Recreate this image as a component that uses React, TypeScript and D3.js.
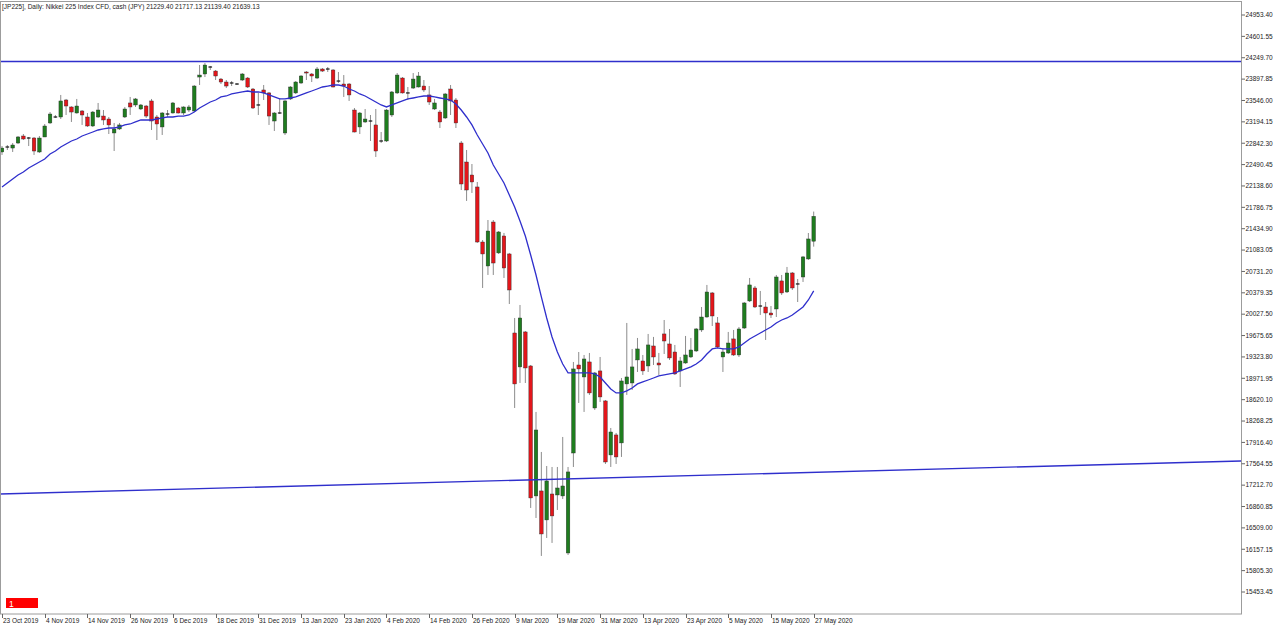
import React from "react";
import * as d3 from "d3";

const title = "[JP225], Daily: Nikkei 225 Index CFD, cash (JPY)  21229.40 21717.13 21139.40 21639.13";

// date labels, one every 8 trading days
const dateLabels = [
  "23 Oct 2019", "4 Nov 2019", "14 Nov 2019", "26 Nov 2019", "6 Dec 2019",
  "18 Dec 2019", "31 Dec 2019", "13 Jan 2020", "23 Jan 2020", "4 Feb 2020",
  "14 Feb 2020", "26 Feb 2020", "9 Mar 2020", "19 Mar 2020", "31 Mar 2020",
  "13 Apr 2020", "23 Apr 2020", "5 May 2020", "15 May 2020", "27 May 2020",
];
const labelStep = 8;

const priceTicks = [
  24953.4, 24601.55, 24249.7, 23897.85, 23546.0, 23194.15, 22842.3, 22490.45,
  22138.6, 21786.75, 21434.9, 21083.05, 20731.2, 20379.35, 20027.5, 19675.65,
  19323.8, 18971.95, 18620.1, 18268.25, 17916.4, 17564.55, 17212.7, 16860.85,
  16509.0, 16157.15, 15805.3, 15453.45,
];

const open = [
  22698, 22780, 22763, 22846, 22961, 22928, 22928, 22698, 22945, 23176,
  23274, 23274, 23554, 23439, 23340, 23373, 23274, 23126, 23274, 23290,
  23241, 23011, 23077, 23274, 23505, 23472, 23406, 23455, 23538, 23274,
  23110, 23323, 23340, 23422, 23340, 23389, 23373, 23932, 23982, 24097,
  24031, 23899, 23850, 23834, 23817, 23883, 23916, 23735, 23472, 23719,
  23670, 23208, 23340, 23011, 23571, 23670, 23834, 24015, 23982, 23916,
  24064, 24064, 24048, 23866, 23817, 23817, 23389, 23110, 23192, 23208,
  23143, 22879, 22879, 23307, 23670, 23916, 23670, 23751, 23768, 23784,
  23637, 23406, 23356, 23258, 23735, 23554, 22846, 22533, 22319, 22122,
  21216, 20821, 21545, 21036, 21315, 21019, 19718, 19159, 19735, 19175,
  17035, 17117, 16640, 17067, 17051, 17035, 16096, 17742, 19191, 18994,
  19241, 18483, 19093, 18599, 17710, 18039, 17908, 18879, 18895, 19274,
  19257, 19175, 19504, 19224, 19702, 19537, 19405, 19093, 19224, 19323,
  19422, 19768, 19981, 20377, 19883, 19323, 19389, 19620, 19356, 19800,
  20245, 20459, 20162, 20146, 20047, 20113, 20575, 20393, 20706, 20525,
  20640, 20937, 21229.4,
];

const high = [
  22796, 22813, 22846, 22961, 22994, 22945, 22945, 22961, 23159, 23356,
  23307, 23637, 23571, 23450, 23571, 23389, 23340, 23373, 23505, 23389,
  23274, 23176, 23176, 23439, 23604, 23587, 23488, 23472, 23571, 23307,
  23356, 23389, 23521, 23439, 23450, 23472, 23801, 24130, 24163, 24114,
  24048, 23916, 23883, 23866, 23834, 23998, 23932, 23751, 23670, 23801,
  23686, 23356, 23587, 23554, 23784, 23866, 23965, 24031, 23998, 24097,
  24081, 24097, 24064, 24015, 23965, 23834, 23422, 23356, 23406, 23307,
  23406, 23027, 23406, 23702, 23998, 23932, 23768, 23998, 24015, 23883,
  23784, 23571, 23389, 23670, 23801, 23587, 22879, 22731, 22500, 22204,
  21249, 21578, 21578, 21397, 21365, 21036, 19965, 20179, 19751, 19191,
  18418, 17759, 17528, 17512, 17512, 18006, 17512, 19241, 19405, 19356,
  19389, 19076, 19323, 18615, 18154, 18072, 18977, 19883, 19455, 19636,
  19356, 19702, 19653, 19389, 19932, 19784, 19521, 19323, 19669, 19636,
  19800, 20146, 20509, 20393, 19981, 19471, 19735, 19768, 19817, 20228,
  20624, 20492, 20410, 20228, 20162, 20673, 20673, 20805, 20722, 20607,
  20986, 21364, 21717.13,
];

const low = [
  22649, 22731, 22698, 22829, 22895, 22796, 22649, 22682, 22945, 23159,
  23258, 23241, 23307, 23192, 23330, 23143, 23110, 23110, 23258, 23143,
  22994, 22714, 23060, 23258, 23307, 23439, 23389, 23258, 23060, 22895,
  22978, 23274, 23330, 23330, 23307, 23356, 23356, 23801, 23932, 24048,
  23883, 23817, 23751, 23784, 23801, 23866, 23751, 23406, 23307, 23554,
  23143, 23044, 23325, 22978, 23554, 23653, 23817, 23883, 23850, 23899,
  24015, 24015, 23760, 23834, 23604, 23538, 23020, 22994, 23176, 22879,
  22616, 22846, 22862, 23274, 23653, 23660, 23554, 23735, 23760, 23686,
  23472, 23389, 23093, 23241, 23307, 23093, 22072, 21892, 22023, 21200,
  20459, 20673, 20673, 21019, 20624, 20195, 18483, 18895, 18895, 16837,
  16672, 16047, 16343, 16261, 16804, 16985, 16063, 17512, 18566, 18418,
  18698, 18451, 18582, 17561, 17512, 17561, 17677, 18698, 18780, 19076,
  19027, 19076, 19191, 19027, 19372, 19274, 19027, 18829, 19210, 19307,
  19405, 19735, 19970, 19833, 19471, 19076, 19372, 19339, 19323, 19784,
  20228, 20130, 20015, 19603, 19965, 19981, 20344, 20377, 20426, 20228,
  20558, 20920, 21139.4,
];

const close = [
  22763, 22780, 22813, 22945, 22912, 22928, 22714, 22928, 23126, 23323,
  23274, 23538, 23455, 23356, 23455, 23307, 23126, 23356, 23389, 23225,
  23143, 23077, 23143, 23406, 23439, 23571, 23472, 23290, 23208, 23159,
  23340, 23323, 23505, 23340, 23439, 23439, 23784, 23965, 24130, 24097,
  23949, 23850, 23784, 23834, 23817, 23982, 23768, 23422, 23472, 23670,
  23290, 23340, 23340, 23538, 23768, 23850, 23949, 23998, 23949, 24064,
  24031, 24064, 23768, 23866, 23784, 23637, 23027, 23340, 23241, 23208,
  22714, 22879, 23389, 23686, 23965, 23670, 23670, 23899, 23949, 23719,
  23521, 23505, 23192, 23653, 23538, 23176, 22171, 22072, 22204, 21216,
  21019, 21397, 20870, 21381, 20788, 20426, 18879, 19965, 19142, 17002,
  18121, 16409, 17282, 16706, 17166, 17199, 17430, 19126, 19126, 19290,
  18731, 19060, 18665, 17594, 18088, 17677, 18928, 18994, 19159, 19455,
  19093, 19521, 19323, 19191, 19586, 19307, 19043, 19257, 19356, 19438,
  19784, 19981, 20393, 19998, 19488, 19405, 19553, 19356, 19784, 20212,
  20509, 20146, 20162, 20047, 20015, 20640, 20377, 20706, 20459, 20525,
  20970, 21266, 21639.13,
];

// moving average as drawn on the chart
const movingAverage = [
  22122, 22188, 22254, 22319, 22369, 22435, 22484, 22533, 22583, 22665,
  22714, 22780, 22829, 22879, 22912, 22961, 22994, 23027, 23060, 23077,
  23093, 23093, 23110, 23143, 23159, 23192, 23225, 23225, 23225, 23241,
  23258, 23274, 23274, 23290, 23290, 23307, 23356, 23422, 23472, 23521,
  23554, 23604, 23620, 23653, 23670, 23686, 23702, 23686, 23686, 23670,
  23637, 23604, 23571, 23571, 23587, 23604, 23637, 23670, 23702, 23735,
  23768, 23784, 23801, 23801, 23784, 23735, 23702, 23653, 23620, 23571,
  23521, 23472, 23439, 23472, 23505, 23538, 23571, 23587, 23604, 23620,
  23620, 23604, 23587, 23571, 23554, 23488, 23389, 23274, 23143, 22978,
  22829, 22682, 22484, 22336, 22188, 21990, 21793, 21561, 21315, 21002,
  20673, 20311, 19965, 19653, 19405, 19208, 19060, 19060, 19060, 19060,
  19060, 19043, 18994, 18895, 18796, 18731, 18731, 18764, 18813, 18879,
  18912, 18944, 18977, 19010, 19027, 19043, 19060, 19093, 19126, 19159,
  19208, 19274, 19372, 19455, 19471, 19455, 19455, 19455, 19488, 19553,
  19620, 19669, 19718, 19768, 19817, 19883, 19932, 19965, 20015, 20080,
  20146, 20261, 20410,
];

// drawn levels
const resistanceLevel = 24188;
const supportLine = [
  { bar: 0, price: 17068 },
  { bar: 152, price: 17423 },
];

const W = 1280;
const H = 628;
const plotRight = 1241;
const plotTop = 2;
const plotBottom = 614;

const FONT = "'Liberation Sans', Arial, sans-serif";
const UP = "#1f7d1f";
const DOWN = "#e3161b";
const LINE = "#2f2fcc";

export default function App() {
  const n = open.length;
  const x = d3.scaleLinear().domain([0, n - 1]).range([2, 813.7]);
  const y = d3
    .scaleLinear()
    .domain([priceTicks[priceTicks.length - 1], priceTicks[0]])
    .range([592, 15]);

  const maLine = d3
    .line<number>()
    .x((_, i) => x(i))
    .y((d) => y(d))(movingAverage);

  const b0 = x.invert(0);
  const b1 = x.invert(plotRight);
  const s0 = supportLine[0];
  const s1 = supportLine[1];
  const supportAt = (b: number) =>
    s0.price + ((s1.price - s0.price) * (b - s0.bar)) / (s1.bar - s0.bar);

  const bodyW = 3.6;

  return (
    <svg
      width={W}
      height={H}
      style={{ position: "absolute", left: 0, top: 0, background: "#fff" }}
      fontFamily={FONT}
    >
      <defs>
        <clipPath id="plot">
          <rect x={0} y={plotTop} width={plotRight} height={plotBottom - plotTop} />
        </clipPath>
      </defs>
      <rect x={0} y={0} width={W} height={H} fill="#fff" />

      <g clipPath="url(#plot)">
        {open.map((o, i) => {
          const c = close[i];
          const cx = x(i);
          const isDoji = o === c;
          const color = isDoji ? "#000" : c > o ? UP : DOWN;
          const top = y(Math.max(o, c));
          const bot = y(Math.min(o, c));
          return (
            <g key={i}>
              <line
                x1={cx}
                x2={cx}
                y1={y(high[i])}
                y2={y(low[i])}
                stroke="#8c8c8c"
                strokeWidth={1}
              />
              {isDoji ? (
                <line
                  x1={cx - bodyW / 2}
                  x2={cx + bodyW / 2}
                  y1={top}
                  y2={top}
                  stroke="#111"
                  strokeWidth={1.2}
                />
              ) : (
                <rect
                  x={cx - bodyW / 2}
                  y={top}
                  width={bodyW}
                  height={Math.max(1, bot - top)}
                  fill={color}
                  stroke="#2a2a2a"
                  strokeWidth={0.4}
                />
              )}
            </g>
          );
        })}

        <path d={maLine ?? ""} fill="none" stroke={LINE} strokeWidth={1.3} />

        <line
          x1={0}
          x2={plotRight}
          y1={y(resistanceLevel)}
          y2={y(resistanceLevel)}
          stroke={LINE}
          strokeWidth={1.3}
        />
        <line
          x1={x(b0)}
          x2={x(b1)}
          y1={y(supportAt(b0))}
          y2={y(supportAt(b1))}
          stroke={LINE}
          strokeWidth={1.3}
        />
      </g>

      {/* frame */}
      <rect
        x={0.5}
        y={plotTop - 0.5}
        width={plotRight}
        height={plotBottom - plotTop + 0.5}
        fill="none"
        stroke="#9c9c9c"
        strokeWidth={1}
      />

      <text x={2} y={8.5} fontSize={6.5} fill="#222">
        {title}
      </text>

      {/* price axis */}
      {priceTicks.map((t) => (
        <g key={t}>
          <line
            x1={plotRight + 0.5}
            x2={plotRight + 4}
            y1={y(t)}
            y2={y(t)}
            stroke="#666"
          />
          <text
            x={plotRight + 4.5}
            y={y(t) + 2.3}
            fontSize={6.5}
            fill="#222"
          >
            {t.toFixed(2)}
          </text>
        </g>
      ))}

      {/* date axis */}
      {dateLabels.map((d, k) => {
        const tx = Math.round(x(k * labelStep)) + 0.5;
        return (
          <g key={d}>
            <line x1={tx} x2={tx} y1={plotBottom} y2={plotBottom + 4} stroke="#666" />
            <text x={tx + 0.5} y={622.5} fontSize={6.5} fill="#222">
              {d}
            </text>
          </g>
        );
      })}

      {/* window number badge */}
      <rect x={6} y={598} width={32} height={10} fill="#ff0000" />
      <text x={9} y={606.5} fontSize={8.5} fill="#fff">
        1
      </text>
    </svg>
  );
}
